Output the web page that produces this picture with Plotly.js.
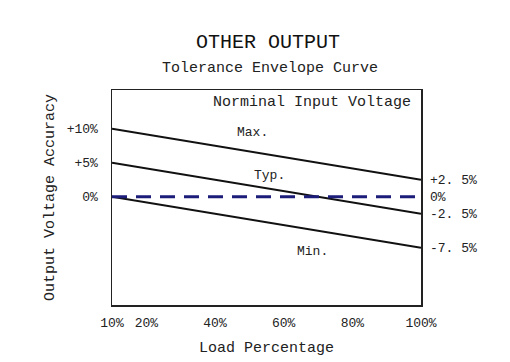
<!DOCTYPE html>
<html>
<head>
<meta charset="utf-8">
<script src="https://cdn.plot.ly/plotly-3.0.1.min.js"></script>
<style>html,body{margin:0;padding:0;background:#fff;}#chart{width:510px;height:362px;}</style>
</head>
<body>
<div id="chart"></div>
<script>
const loadPct = [10, 100];
const maxCurve = [10, 2.5];
const typCurve = [5, -2.5];
const minCurve = [0, -7.5];
const nominalLine = [0, 0];
const xTickVals = [10, 20, 40, 60, 80, 100];
const xTickText = ['10%', '20%', '40%', '60%', '80%', '100%'];
const yTickVals = [10, 5, 0];
const yTickText = ['+10%', '+5%', '0%'];
const yRightVals = [2.5, 0, -2.5, -7.5];
const yRightText = ['+2. 5%', '0%', '-2. 5%', '-7. 5%'];

const FONT = 'Liberation Mono, DejaVu Sans Mono, monospace';
const solid = {color: '#111', width: 2};

const traces = [
  {x: loadPct, y: maxCurve, mode: 'lines', line: solid, name: 'Max.'},
  {x: loadPct, y: typCurve, mode: 'lines', line: solid, name: 'Typ.'},
  {x: loadPct, y: minCurve, mode: 'lines', line: solid, name: 'Min.'},
  {x: loadPct, y: nominalLine, mode: 'lines', line: {color: '#1c1c7a', width: 3, dash: '15px,9px'}, name: 'Nominal'},
  {x: loadPct, y: nominalLine, yaxis: 'y2', mode: 'lines', line: {width: 0}, hoverinfo: 'skip', showlegend: false}
];

const yRange = [-15.9, 15.7];

const layout = {
  width: 510, height: 362,
  margin: {l: 112, r: 89, t: 90, b: 57},
  paper_bgcolor: '#fff', plot_bgcolor: '#fff',
  showlegend: false,
  font: {family: FONT, color: '#222', size: 13},
  title: {text: 'OTHER OUTPUT', x: 0.505, xref: 'paper', xanchor: 'center', y: 0.888, yanchor: 'middle', yref: 'container',
          font: {family: FONT, size: 20, color: '#111'}},
  xaxis: {range: [10, 100], tickvals: xTickVals, ticktext: xTickText, showgrid: false, zeroline: false,
          showline: true, mirror: true, linecolor: '#222', linewidth: 1.5, ticks: '', ticklabelstandoff: 5,
          title: {text: 'Load Percentage', font: {family: FONT, size: 15, color: '#222'}, standoff: 11}},
  yaxis: {range: yRange, tickvals: yTickVals, ticktext: yTickText, showgrid: false, zeroline: false,
          showline: true, mirror: true, linecolor: '#222', linewidth: 1.5, ticks: '', ticklabelstandoff: 10,
          title: {text: 'Output Voltage Accuracy', font: {family: FONT, size: 15, color: '#222'}, standoff: 8}},
  yaxis2: {range: yRange, overlaying: 'y', side: 'right', tickvals: yRightVals, ticktext: yRightText,
           showgrid: false, zeroline: false, showline: false, ticks: '', ticklabelstandoff: 8},
  annotations: [
    {text: 'Tolerance Envelope Curve', xref: 'paper', yref: 'paper', x: 0.51, y: 1.1, xanchor: 'center', yanchor: 'middle',
     showarrow: false, font: {family: FONT, size: 15, color: '#222'}},
    {text: 'Norminal Input Voltage', xref: 'x', yref: 'y', x: 97.6, y: 13.8, xanchor: 'right', yanchor: 'middle',
     showarrow: false, font: {family: FONT, size: 15, color: '#222'}},
    {text: 'Max.', xref: 'x', yref: 'y', x: 51, y: 9.4, xanchor: 'center', yanchor: 'middle', showarrow: false,
     font: {family: FONT, size: 13, color: '#222'}},
    {text: 'Typ.', xref: 'x', yref: 'y', x: 56, y: 3.1, xanchor: 'center', yanchor: 'middle', showarrow: false,
     font: {family: FONT, size: 13, color: '#222'}},
    {text: 'Min.', xref: 'x', yref: 'y', x: 68.5, y: -8.1, xanchor: 'center', yanchor: 'middle', showarrow: false,
     font: {family: FONT, size: 13, color: '#222'}}
  ]
};

Plotly.newPlot('chart', traces, layout, {staticPlot: true, displayModeBar: false});
</script>
</body>
</html>
